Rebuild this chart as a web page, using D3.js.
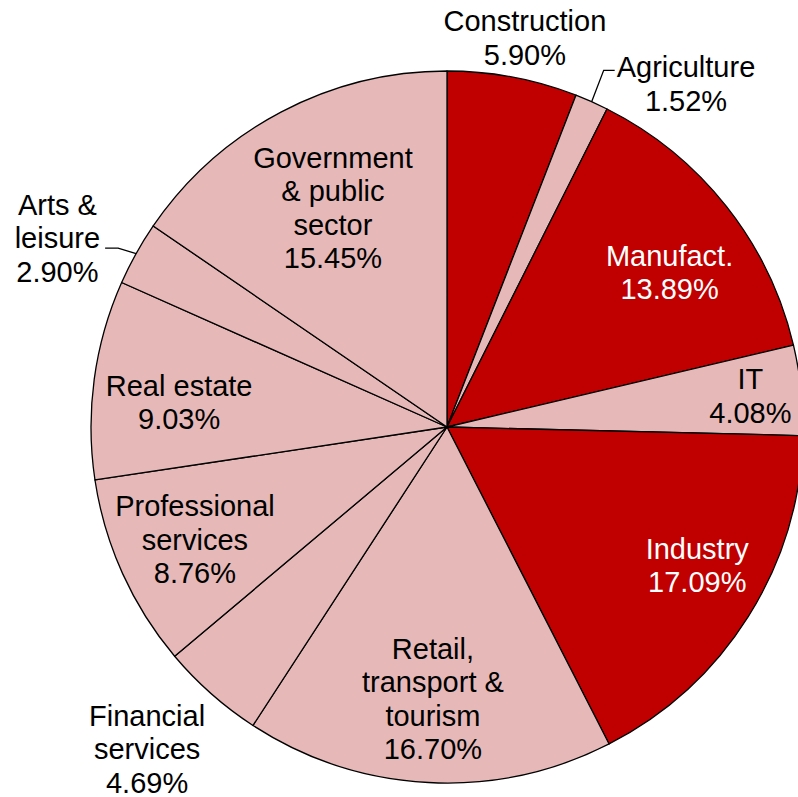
<!DOCTYPE html>
<html>
<head>
<meta charset="utf-8">
<script src="https://cdn.jsdelivr.net/npm/d3@7"></script>
<style>
  html, body { margin: 0; padding: 0; background: #fff; overflow: hidden; }
  svg { display: block; }
  text { font-family: "Liberation Sans", Arial, sans-serif; }
</style>
</head>
<body>
<svg id="chart" width="798" height="797"></svg>
<script>
// ---- data ----
const categories = [
  ["Construction"],
  ["Agriculture"],
  ["Manufact."],
  ["IT"],
  ["Industry"],
  ["Retail,", "transport &", "tourism"],
  ["Financial", "services"],
  ["Professional", "services"],
  ["Real estate"],
  ["Arts &", "leisure"],
  ["Government", "& public", "sector"]
];
const values = [5.90, 1.52, 13.89, 4.08, 17.09, 16.70, 4.69, 8.76, 9.03, 2.90, 15.45];
const groups = ["industry", "other", "industry", "other", "industry", "other", "other", "other", "other", "other", "other"];

// ---- layout (label placement, polar relative to slice mid-angle) ----
const labelRadius = [397, 418, 271, 305, 286, 272, 440, 276, 269, 433, 247];
const labelAngleShift = [0.7, 10.9, 3.5, 0.1, -3.2, 0, 1.5, 0.3, -2.4, -3.3, 0.3];
const leaderLabels = { 1: "right", 9: "left" };

const W = 798, H = 797;
const cx = 447, cy = 427, R = 356;
const fontSize = 29, lineH = 33.5;

const color = d3.scaleOrdinal().domain(["industry", "other"]).range(["#C00000", "#E6B9B8"]);
const textColor = d3.scaleOrdinal().domain(["industry", "other"]).range(["#FFFFFF", "#000000"]);

const svg = d3.select("#chart");
const g = svg.append("g").attr("transform", `translate(${cx},${cy})`);

const data = values.map((v, i) => ({ v, i, lines: categories[i], group: groups[i] }));
const pie = d3.pie().value(d => d.v).sort(null).startAngle(0).endAngle(2 * Math.PI);
const arcs = pie(data);
const arc = d3.arc().innerRadius(0).outerRadius(R);

g.selectAll("path.slice")
  .data(arcs)
  .enter().append("path")
  .attr("class", "slice")
  .attr("d", arc)
  .attr("fill", d => color(d.data.group))
  .attr("stroke", "#000")
  .attr("stroke-width", 1.3)
  .attr("stroke-linejoin", "round");

function polar(r, a) { return [r * Math.sin(a), -r * Math.cos(a)]; }

arcs.forEach((a, k) => {
  const mid = (a.startAngle + a.endAngle) / 2;
  const ang = mid + labelAngleShift[k] * Math.PI / 180;
  const [lx, ly] = polar(labelRadius[k], ang);
  const lines = a.data.lines.concat([d3.format(".2f")(a.data.v) + "%"]);
  const outside = labelRadius[k] > R;
  const fill = outside ? "#000" : textColor(a.data.group);
  const t = g.append("text")
    .attr("text-anchor", "middle")
    .attr("font-size", fontSize)
    .attr("fill", fill);
  const n = lines.length;
  lines.forEach((ln, j) => {
    t.append("tspan")
      .attr("x", lx)
      .attr("y", ly + (j - (n - 1) / 2) * lineH + fontSize * 0.35)
      .text(ln);
  });

  if (leaderLabels[k] !== undefined) {
    const [ex, ey] = polar(R, mid);
    const bb = t.node().getBBox();
    const firstY = ly + (0 - (n - 1) / 2) * lineH;
    let pts;
    if (leaderLabels[k] === "right") {
      const hx = bb.x - 2;
      const hy = firstY + 3;
      pts = [[ex, ey], [hx - 11, hy], [hx, hy]];
    } else {
      const hx = bb.x + bb.width + 5;
      const hy = ly + lineH * 0.3;
      pts = [[ex, ey], [hx + 13, hy], [hx, hy]];
    }
    g.append("path")
      .attr("d", d3.line()(pts))
      .attr("fill", "none")
      .attr("stroke", "#000")
      .attr("stroke-width", 1.3);
  }
});
</script>
</body>
</html>
